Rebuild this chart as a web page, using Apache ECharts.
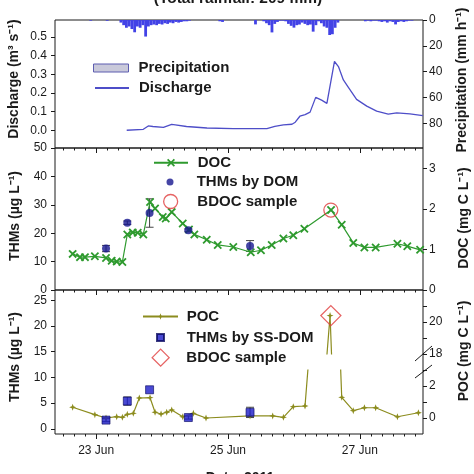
<!DOCTYPE html>
<html><head><meta charset="utf-8">
<script src="https://cdn.jsdelivr.net/npm/echarts@6/dist/echarts.min.js"></script>
<style>html,body{margin:0;padding:0;background:#fff}#c{width:474px;height:474px}</style>
</head><body><div id="c"></div>
<script>
// ---------- data ----------
const X_MIN = 22.375, X_MAX = 27.958;           // day of June 2011
const tickDays = [23, 25, 27];
const tickLabels = ['23 Jun', '25 Jun', '27 Jun'];

// discharge (m3/s)
const dischargeDay = [23.463, 23.715, 23.79, 23.86, 24.02, 24.145, 24.2, 24.37, 24.68, 25.08, 25.59, 25.71, 25.84, 25.97, 26.02, 26.09, 26.17, 26.245, 26.33, 26.42, 26.5, 26.615, 26.675, 26.75, 26.826, 26.95, 27.105, 27.255, 27.43, 27.56, 27.76, 27.955];
const dischargeVal = [0.0, 0.005, 0.023, 0.02, 0.015, 0.031, 0.029, 0.02, 0.012, 0.009, 0.009, 0.021, 0.029, 0.032, 0.043, 0.075, 0.084, 0.097, 0.176, 0.161, 0.144, 0.368, 0.341, 0.269, 0.23, 0.165, 0.129, 0.102, 0.086, 0.093, 0.088, 0.078];

// hourly precipitation (mm/h); hours counted from 22 Jun 00:00
const rainSmallHours = [22, 28, 69, 70, 82];
const rainSmallMm = [0.5, 0.6, 1, 1.5, 3.4];
const rainAStartHour = 33;
const rainA = [2, 4, 6, 5, 7, 9.5, 5, 6, 4, 12.8, 5, 4, 3.5, 4, 3, 3.5, 2.5, 3, 2, 2.5, 1.5, 2, 1.5, 1, 1, 0.5];
const rainBStartHour = 85;
const rainB = [1, 2.5, 4, 9.6, 3, 1.5, 0.5, 0.5, 1, 3, 4.5, 5.9, 4, 3.5, 2, 3, 4, 3.5, 9, 4, 1, 2.5, 5, 6, 11.6, 11, 6, 2];
const rainCStartHour = 122;
const rainC = [1, 0.5, 1, 0.5, 0.5, 1, 1.5, 1, 2, 1, 1.5, 3.4, 1.5, 1, 1.5, 1, 0.5, 0.5];

// DOC (mg C/L)
const docDay = [22.643, 22.754, 22.83, 22.98, 23.149, 23.235, 23.311, 23.397, 23.472, 23.554, 23.63, 23.715, 23.817, 23.893, 24.01, 24.055, 24.146, 24.313, 24.408, 24.489, 24.677, 24.844, 25.08, 25.345, 25.5, 25.663, 25.84, 25.99, 26.158, 26.563, 26.725, 26.9, 27.069, 27.24, 27.57, 27.72, 27.914];
const docVal = [0.89, 0.81, 0.81, 0.83, 0.79, 0.72, 0.70, 0.69, 1.37, 1.42, 1.41, 1.37, 2.17, 2.01, 1.80, 1.76, 1.92, 1.64, 1.49, 1.37, 1.24, 1.11, 1.06, 0.93, 0.98, 1.11, 1.27, 1.35, 1.51, 1.97, 1.61, 1.16, 1.05, 1.05, 1.14, 1.08, 0.99];

// THMs samples
const thmsDay = [23.149, 23.472, 23.81, 24.398, 25.334];
const thmsDomVal = [14.6, 23.7, 27.1, 21.0, 15.5];
const thmsDomErr = [1.1, 0.6, 5.0, 0.5, 1.9];
const thmsSsVal = [1.7, 5.4, 7.6, 2.2, 3.2];
const thmsSsErr = [0.3, 0.8, 0, 0.3, 1.0];

// BDOC sample
const bdocDay = [26.56];
const bdocDoc = [1.97];
const bdocPoc = [20.4];

// POC (mg C/L)
const pocDay = [22.643, 22.98, 23.149, 23.311, 23.397, 23.472, 23.563, 23.654, 23.817, 23.893, 23.984, 24.07, 24.146, 24.313, 24.474, 24.666, 25.334, 25.678, 25.84, 25.99, 26.168, 26.548, 26.725, 26.9, 27.069, 27.24, 27.57, 27.888];
const pocVal = [0.67, 0.21, 0.0, 0.08, 0.04, 0.23, 0.29, 1.25, 1.27, 0.36, 0.25, 0.36, 0.5, 0.08, 0.29, 0.0, 0.13, 0.13, 0.04, 0.71, 0.75, 20.4, 1.29, 0.46, 0.64, 0.64, 0.08, 0.33];

// axis tick values
const dischargeTicks = [0, 0.1, 0.2, 0.3, 0.4, 0.5];
const precipTicks = [0, 20, 40, 60, 80];
const thmsMidTicks = [0, 10, 20, 30, 40, 50];
const docTicks = [0, 1, 2, 3];
const thmsBotTicks = [0, 5, 10, 15, 20, 25];
const pocUpperLabels = [18, 20], pocUpperTicks = [18, 19, 20, 21];
const pocLowerLabels = [0, 2], pocLowerTicks = [0, 1, 2, 3];

// ---------- build ----------
const FONT = 'Liberation Sans, Arial, sans-serif';
const INK = '#1a1a1a';
const minorTicks = [];
for (let k = 135; k <= 167; k++) minorTicks.push(k / 6);

const rainData = [];
rainSmallHours.forEach((h, i) => rainData.push([22 + h / 24, rainSmallMm[i]]));
rainA.forEach((v, i) => rainData.push([22 + (rainAStartHour + i) / 24, v]));
rainB.forEach((v, i) => rainData.push([22 + (rainBStartHour + i) / 24, v]));
rainC.forEach((v, i) => rainData.push([22 + (rainCStartHour + i) / 24, v]));

const zip = (a, b) => a.map((d, i) => [d, b[i]]);

const grids = [
  {left: 55, right: 51, top: 20, height: 128, show: true, borderColor: INK, borderWidth: 1},
  {left: 55, right: 51, top: 148, height: 142, show: true, borderColor: INK, borderWidth: 1},
  {left: 55, right: 51, top: 290, height: 144, show: true, borderColor: INK, borderWidth: 1},
  {left: 55, right: 51, top: 290, height: 64},
  {left: 55, right: 51, top: 370, height: 64}
];

const xAxes = [];
for (let g = 0; g < 3; g++) {
  xAxes.push({type: 'value', gridIndex: g, position: 'bottom', min: X_MIN, max: X_MAX,
    axisLine: {show: false, onZero: false}, splitLine: {show: false}, axisLabel: {show: false},
    axisTick: {show: true, length: 2.5, customValues: minorTicks, lineStyle: {color: INK}}});
  xAxes.push({type: 'value', gridIndex: g, position: 'bottom', min: X_MIN, max: X_MAX,
    axisLine: {show: false, onZero: false}, splitLine: {show: false},
    axisTick: {show: true, length: 5, customValues: tickDays, lineStyle: {color: INK}},
    axisLabel: {show: g === 2, customValues: tickDays, margin: 11, fontSize: 12, color: INK, fontFamily: FONT,
      formatter: v => tickLabels[tickDays.indexOf(Math.round(v))] || ''}});
}
xAxes.push({type: 'value', gridIndex: 3, min: X_MIN, max: X_MAX, show: false});
xAxes.push({type: 'value', gridIndex: 4, min: X_MIN, max: X_MAX, show: false});

function yAx(grid, pos, min, max, labels, ticks, fmt, extra) {
  return Object.assign({type: 'value', gridIndex: grid, position: pos, min, max,
    axisLine: {show: false, onZero: false}, splitLine: {show: false},
    axisTick: {show: true, length: 4, customValues: ticks || labels, lineStyle: {color: INK}},
    axisLabel: {customValues: labels, fontSize: 12, color: INK, fontFamily: FONT,
      margin: pos === 'left' ? 8 : 6, formatter: fmt || (v => String(Math.round(v)))}}, extra || {});
}
const yAxes = [
  yAx(0, 'left', -0.095, 0.59, dischargeTicks, null, v => v.toFixed(1)),
  yAx(0, 'right', 0, 99, precipTicks, null, null, {inverse: true}),
  yAx(1, 'left', 0, 50, thmsMidTicks),
  yAx(1, 'right', 0, 3.5, docTicks),
  yAx(2, 'left', -1, 27, thmsBotTicks),
  yAx(3, 'right', 18, 22, pocUpperLabels, pocUpperTicks),
  yAx(4, 'right', -1, 3, pocLowerLabels, pocLowerTicks)
];

const X_SYM = 'path://M0,1.5L1.5,0L5,3.5L8.5,0L10,1.5L6.5,5L10,8.5L8.5,10L5,6.5L1.5,10L0,8.5L3.5,5Z';
const STAR_SYM = 'path://M5,0L6.3,3.7L10,5L6.3,6.3L5,10L3.7,6.3L0,5L3.7,3.7Z';
const GREEN = '#2e9a2e', OLIVE = '#8c8c1e', RED = '#e03c3c', NAVY = '#16168e', BLUE = '#1c1cc8';

function errSeries(name, xi, yi, days, vals, errs) {
  return {type: 'custom', name, xAxisIndex: xi, yAxisIndex: yi, z: 1,
    data: days.map((d, i) => [d, vals[i], errs[i]]),
    renderItem(params, api) {
      const x = api.value(0), y = api.value(1), e = api.value(2);
      if (!e) return null;
      const t = api.coord([x, y + e]), b = api.coord([x, y - e]);
      const st = {stroke: '#444', lineWidth: 1};
      return {type: 'group', children: [
        {type: 'line', shape: {x1: t[0], y1: t[1], x2: b[0], y2: b[1]}, style: st},
        {type: 'line', shape: {x1: t[0] - 4, y1: t[1], x2: t[0] + 4, y2: t[1]}, style: st},
        {type: 'line', shape: {x1: b[0] - 4, y1: b[1], x2: b[0] + 4, y2: b[1]}, style: st}
      ]};
    }};
}

const series = [
  {type: 'bar', name: 'Precipitation', xAxisIndex: 1, yAxisIndex: 1, barWidth: 2.8,
    itemStyle: {color: '#4242e6'}, data: rainData},
  {type: 'line', name: 'Discharge', xAxisIndex: 1, yAxisIndex: 0, symbol: 'none',
    lineStyle: {color: '#4e4ec8', width: 1.3}, itemStyle: {color: '#4e4ec8'},
    data: zip(dischargeDay, dischargeVal)},
  {type: 'line', name: 'DOC', xAxisIndex: 3, yAxisIndex: 3, symbol: X_SYM, symbolSize: 8.5,
    lineStyle: {color: GREEN, width: 1.2}, itemStyle: {color: GREEN}, z: 2,
    data: zip(docDay, docVal)},
  errSeries('errDom', 3, 2, thmsDay, thmsDomVal, thmsDomErr),
  {type: 'scatter', name: 'THMs by DOM', xAxisIndex: 3, yAxisIndex: 2, symbol: 'circle', symbolSize: 8,
    itemStyle: {color: NAVY}, z: 4, data: zip(thmsDay, thmsDomVal)},
  {type: 'scatter', name: 'BDOC sample', xAxisIndex: 3, yAxisIndex: 3, symbol: 'circle', symbolSize: 14,
    itemStyle: {color: 'rgba(0,0,0,0)', borderColor: RED, borderWidth: 1.3}, z: 5,
    data: zip(bdocDay, bdocDoc)},
  {type: 'line', name: 'POC', xAxisIndex: 6, yAxisIndex: 5, symbol: STAR_SYM, symbolSize: 7,
    lineStyle: {color: OLIVE, width: 1.2}, itemStyle: {color: OLIVE}, clip: true,
    data: zip(pocDay, pocVal)},
  {type: 'line', name: 'POC', xAxisIndex: 7, yAxisIndex: 6, symbol: STAR_SYM, symbolSize: 7,
    lineStyle: {color: OLIVE, width: 1.2}, itemStyle: {color: OLIVE}, clip: true,
    data: zip(pocDay, pocVal)},
  errSeries('errSs', 5, 4, thmsDay, thmsSsVal, thmsSsErr),
  {type: 'scatter', name: 'THMs by SS-DOM', xAxisIndex: 5, yAxisIndex: 4, symbol: 'rect', symbolSize: 8,
    itemStyle: {color: BLUE, borderColor: '#0a0a60', borderWidth: 0.8}, z: 4,
    data: zip(thmsDay, thmsSsVal)},
  {type: 'scatter', name: 'BDOC sample ', xAxisIndex: 6, yAxisIndex: 5, symbol: 'diamond', symbolSize: 20,
    itemStyle: {color: 'rgba(0,0,0,0)', borderColor: RED, borderWidth: 1.3}, z: 5, clip: false,
    data: zip(bdocDay, bdocPoc)}
];

function lg(item, iconLeft, cy, w, h, textStart) {
  return {orient: 'vertical', left: iconLeft, top: cy - Math.max(8, h / 2), padding: 0,
    itemWidth: w, itemHeight: h, itemGap: 0, selectedMode: false,
    textStyle: {fontSize: 15, fontWeight: 'bold', color: INK, fontFamily: FONT, lineHeight: 16,
      padding: [0, 0, 0, textStart - iconLeft - w - 5]},
    data: [item]};
}
const legends = [
  lg({name: 'Precipitation', icon: 'rect', itemStyle: {color: '#c9c9da', borderColor: '#5d5db0', borderWidth: 1}}, 93, 68, 35, 8, 138),
  lg({name: 'Discharge', itemStyle: {opacity: 0}}, 94, 88, 34, 8, 138),
  lg({name: 'DOC'}, 153, 162.7, 34, 10, 196.7),
  lg({name: 'THMs by DOM', icon: 'circle'}, 166.5, 182, 7, 7, 196.7),
  lg({name: 'BDOC sample', icon: 'circle', itemStyle: {color: 'rgba(0,0,0,0)', borderColor: RED, borderWidth: 1.3}}, 163, 201.5, 14, 14, 196.7),
  lg({name: 'POC'}, 142, 316.5, 35, 8, 185.7),
  lg({name: 'THMs by SS-DOM', icon: 'rect'}, 156, 337.5, 7, 7, 185.7),
  lg({name: 'BDOC sample ', icon: 'diamond', itemStyle: {color: 'rgba(0,0,0,0)', borderColor: RED, borderWidth: 1.3}}, 151.5, 357, 17, 17, 185.7)
];

function txt(text, x, y, rot, size) {
  return {type: 'text', x, y, rotation: rot || 0, z: 10,
    style: {text, fontSize: size || 14, fontWeight: 'bold', fontFamily: FONT, fill: INK,
      textAlign: 'center', textVerticalAlign: 'middle', align: 'center', verticalAlign: 'middle'}};
}
const R = Math.PI / 2;
const graphics = [
  txt('(Total rainfall: 209 mm)', 238, -1, 0, 15.5),
  txt('Discharge (m³ s⁻¹)', 14.5, 79, R),
  txt('Precipitation (mm h⁻¹)', 462, 80, R),
  txt('THMs (µg L⁻¹)', 15, 216, R),
  txt('DOC (mg C L⁻¹)', 464, 218, R),
  txt('THMs (µg L⁻¹)', 15, 357, R),
  txt('POC (mg C L⁻¹)', 464, 351, R),
  txt('Date, 2011', 240, 478, 0),
  {type: 'line', z: 10, shape: {x1: 415, y1: 361, x2: 432, y2: 346}, style: {stroke: INK, lineWidth: 1}},
  {type: 'line', z: 10, shape: {x1: 415, y1: 378, x2: 432, y2: 365}, style: {stroke: INK, lineWidth: 1}}
];

const chart = echarts.init(document.getElementById('c'), null, {renderer: 'canvas'});
chart.setOption({
  animation: false,
  backgroundColor: '#fff',
  grid: grids,
  xAxis: xAxes,
  yAxis: yAxes,
  legend: legends,
  series,
  graphic: graphics
});
</script>
</body></html>
